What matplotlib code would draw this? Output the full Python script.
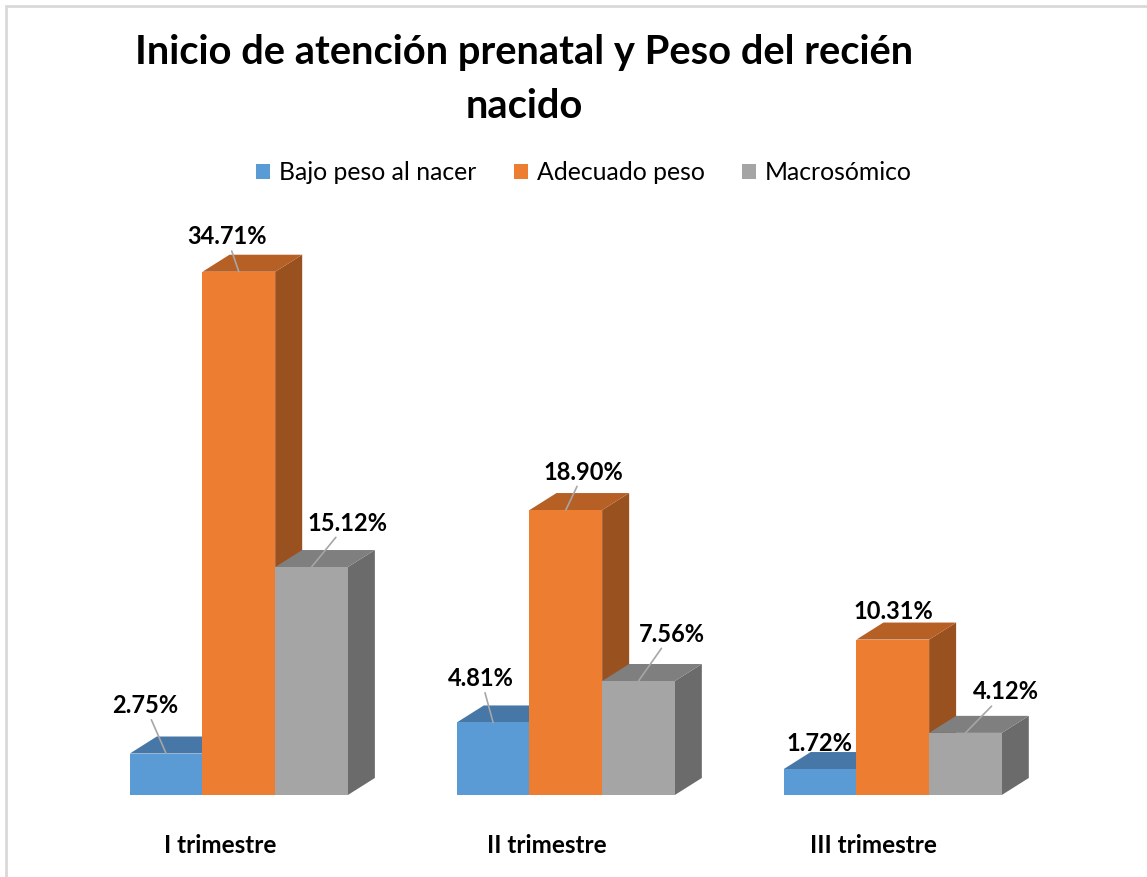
import matplotlib
matplotlib.use('Agg')
import matplotlib.pyplot as plt
from matplotlib.patches import Polygon, Rectangle
from matplotlib.transforms import ScaledTranslation
import numpy as np

plt.rcParams['font.family'] = ['Lato', 'DejaVu Sans']

# datos
trimestres = ['I trimestre', 'II trimestre', 'III trimestre']
series = ['Bajo peso al nacer', 'Adecuado peso', 'Macrosómico']
bajo_peso = [2.75, 4.81, 1.72]
adecuado_peso = [34.71, 18.90, 10.31]
macrosomico = [15.12, 7.56, 4.12]
valores = [bajo_peso, adecuado_peso, macrosomico]

colores = ['#5b9bd5', '#ed7d31', '#a5a5a5']
colores_top = ['#4677a6', '#b66026', '#7f7f7f']
colores_lado = ['#3d6890', '#9a5120', '#6b6b6b']

# desplazamiento de cada etiqueta (pixeles) respecto al centro de la cara superior
offsets = [
    [(-21, 48), (-12, 44), (-1, 26)],
    [(-12, 35), (18, 38), (1, 28)],
    [(36, 44), (33, 47), (40, 41)],
]

fig = plt.figure(figsize=(11.47, 8.77), dpi=100)
ax = fig.add_axes([59/1147, 82/877, 1079/1147, 603/877])
ax.set_xlim(-0.55, 2.75)
ax.set_ylim(0, 40)

x = np.arange(len(trimestres))
w = 0.2223
dx = 0.0826
dy = 1.13

for s in range(len(series)):
    pos = x + (s - 1) * w
    for i, h in enumerate(valores[s]):
        x0 = pos[i] - w/2
        x1 = pos[i] + w/2
        lado = Polygon([(x1, 0), (x1, h), (x1 + dx, h + dy), (x1 + dx, dy)],
                       closed=True, fc=colores_lado[s], ec='none', zorder=2 + s)
        top = Polygon([(x0, h), (x0 + dx, h + dy), (x1 + dx, h + dy), (x1, h)],
                      closed=True, fc=colores_top[s], ec='none', zorder=2 + s)
        ax.add_patch(lado)
        ax.add_patch(top)
    ax.bar(pos, valores[s], width=w, color=colores[s], label=series[s], zorder=2.5 + s)

    for i, h in enumerate(valores[s]):
        ox, oy = offsets[s][i]
        props = None
        if oy > 30:
            props = dict(arrowstyle='-', color='#a6a6a6', lw=1.2, shrinkA=0, shrinkB=0)
        ax.annotate(f'{h:.2f}%', xy=(pos[i], h), xytext=(ox, oy),
                    textcoords='offset pixels', ha='center', va='center',
                    fontsize=17, fontweight='bold', color='black',
                    arrowprops=props, zorder=10)

ax.set_xticks(x, trimestres)
ax.tick_params(axis='x', length=0, pad=28, labelsize=17.5)
for lbl in ax.get_xticklabels():
    lbl.set_fontweight('bold')
    lbl.set_transform(lbl.get_transform() + ScaledTranslation(-19/100, 0, fig.dpi_scale_trans))
ax.set_yticks([])
for sp in ax.spines.values():
    sp.set_visible(False)
ax.patch.set_alpha(0)

# titulo en dos lineas
fig.text(524/1147, 1 - 64/877, 'Inicio de atención prenatal y Peso del recién',
         ha='center', va='baseline', fontsize=28.7, fontweight='bold')
fig.text(524/1147, 1 - 118/877, 'nacido',
         ha='center', va='baseline', fontsize=28.7, fontweight='bold')

fig.legend(loc='center', bbox_to_anchor=(584/1147, 1 - 173/877), ncol=3, frameon=False,
           fontsize=17.8, handlelength=0.57, handleheight=0.57, handletextpad=0.36,
           columnspacing=1.5)

fig.patches.append(Rectangle((6/1147, -0.05), 1.1, (877 - 6)/877 + 0.05,
                             transform=fig.transFigure, fill=False,
                             ec='#d9d9d9', lw=2))

fig.savefig('out.png', dpi=100)
